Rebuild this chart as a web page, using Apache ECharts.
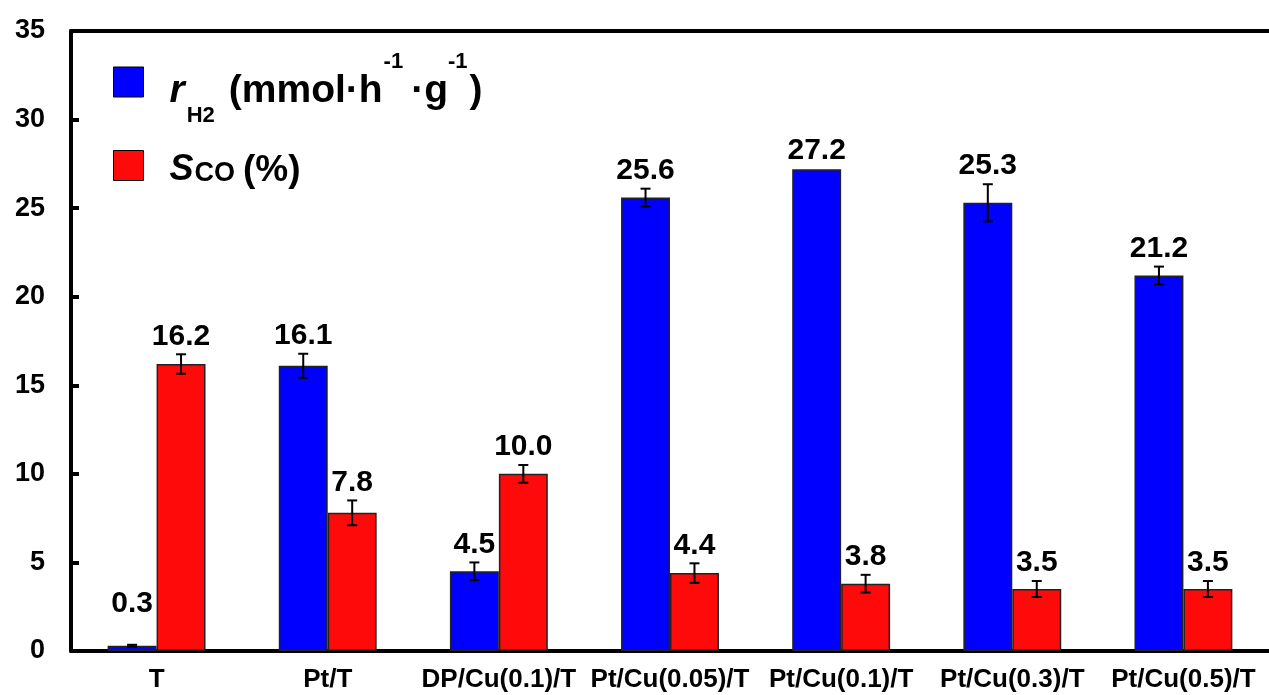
<!DOCTYPE html>
<html>
<head>
<meta charset="utf-8">
<script src="https://cdn.jsdelivr.net/npm/echarts@6/dist/echarts.min.js"></script>
<style>
html,body{margin:0;padding:0;background:#fff;}
#c{width:1269px;height:695px;}
</style>
</head>
<body>
<div id="c"></div>
<script>
// ---- data ----
const categories = ['T', 'Pt/T', 'DP/Cu(0.1)/T', 'Pt/Cu(0.05)/T', 'Pt/Cu(0.1)/T', 'Pt/Cu(0.3)/T', 'Pt/Cu(0.5)/T'];
const rH2 = [0.3, 16.1, 4.5, 25.6, 27.2, 25.3, 21.2];
const rH2Err = [0.05, 0.68, 0.5, 0.5, 0.0, 1.05, 0.5];
const sCO = [16.2, 7.8, 10.0, 4.4, 3.8, 3.5, 3.5];
const sCOErr = [0.55, 0.7, 0.5, 0.55, 0.5, 0.45, 0.45];
const yTicks = [0, 5, 10, 15, 20, 25, 30, 35];

const FONT = '"Liberation Sans", Arial, sans-serif';
const BAR_FRAC = 0.286;

function errSeries(values, errs, side) {
  return {
    type: 'custom',
    z: 10,
    silent: true,
    data: values.map((v, i) => [i, v, errs[i]]),
    encode: { x: 0, y: 1 },
    renderItem: function (params, api) {
      const i = api.value(0), v = api.value(1), e = api.value(2);
      const c = api.coord([i, v]);
      const zeroY = api.coord([i, 0])[1];
      const bandW = api.size([1, 0])[0];
      const bw = bandW * BAR_FRAC;
      const x = c[0] + side * bw / 2;
      const top = api.coord([i, v + e])[1];
      const bot = api.coord([i, v - e])[1];
      const cap = 5;
      const st = { stroke: '#000', lineWidth: 2 };
      const children = [];
      if (e > 0.02) {
        children.push(
          { type: 'line', shape: { x1: x, y1: top, x2: x, y2: bot }, style: st },
          { type: 'line', shape: { x1: x - cap, y1: top, x2: x + cap, y2: top }, style: st },
          { type: 'line', shape: { x1: x - cap, y1: bot, x2: x + cap, y2: bot }, style: st }
        );
      }
      children.push({
        type: 'text',
        style: {
          text: v.toFixed(1), x: x, y: Math.min(Math.min(top, c[1]) - 3, zeroY - 32),
          textAlign: 'center', textVerticalAlign: 'bottom',
          font: 'bold 30px ' + FONT, fill: '#000'
        }
      });
      return { type: 'group', children: children };
    }
  };
}

const base = { fontFamily: FONT, fontWeight: 'bold', color: '#000' };
const axisBlack = { color: '#000', width: 4 };
const chart = echarts.init(document.getElementById('c'));
chart.setOption({
  animation: false,
  backgroundColor: '#fff',
  grid: { left: 71, top: 31, width: 1202, bottom: 44, show: false },
  legend: {
    orient: 'vertical',
    left: 113, top: 37,
    padding: 0,
    icon: 'rect',
    itemWidth: 30, itemHeight: 30,
    itemGap: 15,
    itemStyle: { borderColor: '#000', borderWidth: 1 },
    textStyle: Object.assign({}, base, { fontSize: 39,
      rich: {
        it1: Object.assign({}, base, { fontStyle: 'italic', fontSize: 39, lineHeight: 90, padding: [18, 0, 0, 21] }),
        n1: Object.assign({}, base, { fontSize: 39, lineHeight: 90, padding: [18, 0, 0, 0] }),
        sub: Object.assign({}, base, { fontSize: 22, lineHeight: 24, verticalAlign: 'bottom', padding: [0, 14, 0, 2] }),
        sup: Object.assign({}, base, { fontSize: 22, lineHeight: 24, verticalAlign: 'top', padding: [14, 8, 0, 1] }),
        sup2: Object.assign({}, base, { fontSize: 22, lineHeight: 24, verticalAlign: 'top', padding: [14, 2, 0, 0] }),
        it: Object.assign({}, base, { fontStyle: 'italic', fontSize: 36, lineHeight: 76, padding: [10, 0, 0, 21] }),
        subc: Object.assign({}, base, { fontSize: 27, lineHeight: 28, verticalAlign: 'bottom', padding: [0, 8, 16, 1] }),
        n: Object.assign({}, base, { fontSize: 37, lineHeight: 76, padding: [10, 0, 0, 0] })
      }
    }),
    formatter: function (name) {
      if (name === 'rH2') return '{it1|r}{sub|H2}{n1|(mmol·h}{sup|-1}{n1|·g}{sup2|-1}{n1|)}';
      return '{it|S}{subc|CO}{n|(%)}';
    },
    data: ['rH2', 'SCO']
  },
  xAxis: [{
    type: 'category',
    data: categories,
    axisLine: { lineStyle: axisBlack },
    axisTick: { inside: true, length: 8, lineStyle: axisBlack },
    axisLabel: Object.assign({}, base, { fontSize: 26, margin: 16, interval: 0 })
  }, {
    type: 'category',
    position: 'top',
    data: categories,
    axisLine: { show: true, lineStyle: axisBlack },
    axisTick: { show: false },
    axisLabel: { show: false }
  }],
  yAxis: {
    type: 'value',
    min: yTicks[0], max: yTicks[yTicks.length - 1], interval: 5,
    splitLine: { show: false },
    axisLine: { show: true, lineStyle: axisBlack },
    axisTick: { show: true, inside: true, length: 8, lineStyle: axisBlack },
    axisLabel: Object.assign({}, base, { fontSize: 27, margin: 26 })
  },
  series: [
    { name: 'rH2', type: 'bar', data: rH2, barWidth: (BAR_FRAC * 100) + '%', barGap: '0%',
      itemStyle: { color: '#0000FF', borderColor: '#222', borderWidth: 1.5 } },
    { name: 'SCO', type: 'bar', data: sCO, barWidth: (BAR_FRAC * 100) + '%', barGap: '0%',
      itemStyle: { color: '#FF0A0A', borderColor: '#222', borderWidth: 1.5 } },
    errSeries(rH2, rH2Err, -1),
    errSeries(sCO, sCOErr, 1)
  ]
});
</script>
</body>
</html>
